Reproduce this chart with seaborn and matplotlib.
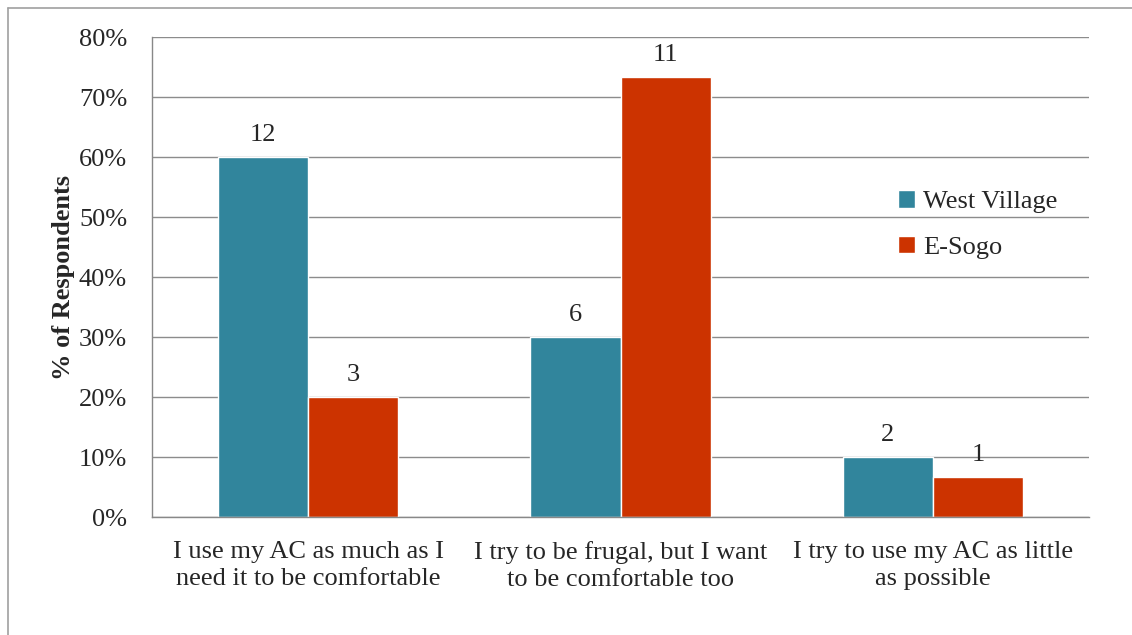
import numpy as np
import pandas as pd
import matplotlib
matplotlib.use('Agg')
import matplotlib.pyplot as plt
import matplotlib.lines as mlines
import seaborn as sns
from matplotlib.ticker import PercentFormatter

# Survey answers and respondent counts
categories = ['I use my AC as much as I\nneed it to be comfortable',
              'I try to be frugal, but I want\nto be comfortable too',
              'I try to use my AC as little\nas possible']
groups = ['West Village', 'E-Sogo']
west_village_counts = [12, 6, 2]
esogo_counts = [3, 11, 1]
west_village_pct = [60.0, 30.0, 10.0]
esogo_pct = [20.0, 73.3, 6.7]

colors = ['#31859C', '#CC3300']

df = pd.DataFrame({
    'Answer': categories * 2,
    'Group': [groups[0]] * 3 + [groups[1]] * 3,
    'Pct': west_village_pct + esogo_pct,
})

sns.set_style('white')
plt.rcParams['font.family'] = ['Liberation Serif', 'DejaVu Serif']

fig = plt.figure(figsize=(11.32, 6.35), dpi=100)
ax = fig.add_axes([0.1343, 0.1858, 0.962 - 0.1343, 0.9417 - 0.1858])

sns.barplot(data=df, x='Answer', y='Pct', hue='Group', palette=colors,
            width=0.577, gap=0, saturation=1, ax=ax, legend=True)

for cont, counts in zip(ax.containers, [west_village_counts, esogo_counts]):
    ax.bar_label(cont, labels=[str(c) for c in counts], padding=8, fontsize=19)

ax.set_ylim(0, 80)
ax.set_yticks(np.arange(0, 81, 10))
ax.yaxis.set_major_formatter(PercentFormatter(decimals=0))
ax.set_xlim(-0.5, 2.5)
ax.set_xticks([0, 1, 2])
ax.set_xticklabels(categories, linespacing=1.3)
ax.set_xticks([-0.5, 0.5, 1.5, 2.5], minor=True)
ax.tick_params(axis='x', which='major', length=0, labelsize=19, pad=17)
ax.tick_params(axis='x', which='minor', length=7, color='#888888', width=1, direction='out')
ax.tick_params(axis='y', length=7, color='#888888', width=1, direction='out', labelsize=19, pad=11)
ax.set_xlabel('')
ax.set_ylabel('% of Respondents', fontsize=19, fontweight='bold', labelpad=3)

ax.yaxis.grid(True, color='#8c8c8c', linewidth=1)
ax.set_axisbelow(True)
for s in ['top', 'right']:
    ax.spines[s].set_visible(False)
for s in ['left', 'bottom']:
    ax.spines[s].set_color('#888888')
    ax.spines[s].set_linewidth(1)

leg = ax.legend(loc='upper left', bbox_to_anchor=(0.771, 0.73), frameon=False,
                fontsize=19, handlelength=0.65, handleheight=0.65, handletextpad=0.3,
                labelspacing=0.85)

# thin page border on top and left
fig.add_artist(mlines.Line2D([8 / 1132, 8 / 1132], [0, 1 - 8 / 635], color='#a0a0a0', lw=1.2))
fig.add_artist(mlines.Line2D([8 / 1132, 1], [1 - 8 / 635, 1 - 8 / 635], color='#a0a0a0', lw=1.2))

fig.savefig('out.png', dpi=100)
